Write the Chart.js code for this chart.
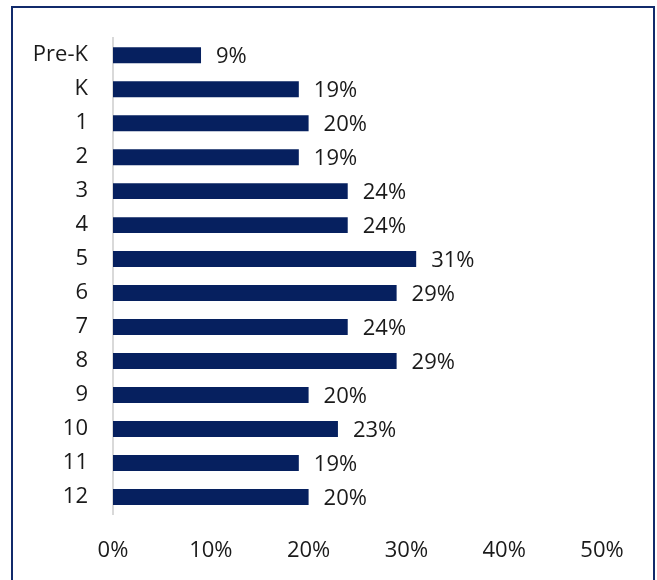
<!DOCTYPE html>
<html>
<head>
<meta charset="utf-8">
<script src="https://cdn.jsdelivr.net/npm/chart.js@4/dist/chart.umd.min.js"></script>
<style>
  html, body { margin: 0; padding: 0; background: #fff; }
  #wrap { position: relative; width: 657px; height: 580px; overflow: hidden; }
  #frame { position: absolute; left: 11px; top: 6px; width: 644px; height: 600px;
           border: 2px solid #112a6b; box-sizing: border-box; pointer-events: none; }
  canvas { position: absolute; left: 0; top: 0; }
</style>
</head>
<body>
<div id="wrap">
  <canvas id="c" width="657" height="580"></canvas>
  <div id="frame"></div>
</div>
<script>
// Grade levels and share of students (percent)
const grades = ['Pre-K', 'K', '1', '2', '3', '4', '5', '6', '7', '8', '9', '10', '11', '12'];
const shares = [9, 19, 20, 19, 24, 24, 31, 29, 24, 29, 20, 23, 19, 20];
const axisTicks = [0, 10, 20, 30, 40, 50];

const FONT = "'Open Sans', sans-serif";

// Writes each bar's percentage just past its end
const valueLabels = {
  id: 'valueLabels',
  afterDatasetsDraw(chart) {
    const ctx = chart.ctx;
    const meta = chart.getDatasetMeta(0);
    ctx.save();
    ctx.font = "22px " + FONT;
    ctx.fillStyle = '#1a1a1a';
    ctx.textAlign = 'left';
    ctx.textBaseline = 'middle';
    meta.data.forEach((bar, i) => {
      ctx.fillText(shares[i] + '%', bar.x + 15, bar.y + 2);
    });
    ctx.restore();
  }
};

new Chart(document.getElementById('c'), {
  type: 'bar',
  data: {
    labels: grades,
    datasets: [{
      data: shares,
      backgroundColor: '#06205f',
      borderWidth: 0,
      barPercentage: 1,
      categoryPercentage: 0.47
    }]
  },
  options: {
    indexAxis: 'y',
    responsive: false,
    animation: false,
    devicePixelRatio: 1,
    layout: { padding: { top: 35, right: 55, bottom: 0, left: 0 } },
    plugins: { legend: { display: false }, tooltip: { enabled: false } },
    scales: {
      x: {
        min: 0, max: 50,
        afterBuildTicks(axis) { axis.ticks = axisTicks.map(v => ({ value: v })); },
        afterFit(axis) { axis.height = 66; },
        grid: { display: false, drawTicks: false },
        border: { display: false },
        ticks: {
          padding: 24,
          color: '#1a1a1a',
          font: { family: FONT, size: 22 },
          callback: v => v + '%'
        }
      },
      y: {
        afterFit(axis) { axis.width = 113; },
        grid: { display: false, drawTicks: false },
        border: { display: true, color: '#d9d9d9', width: 2 },
        ticks: {
          padding: 25,
          color: '#1a1a1a',
          font: { family: FONT, size: 22 }
        }
      }
    }
  },
  plugins: [valueLabels]
});
</script>
</body>
</html>
